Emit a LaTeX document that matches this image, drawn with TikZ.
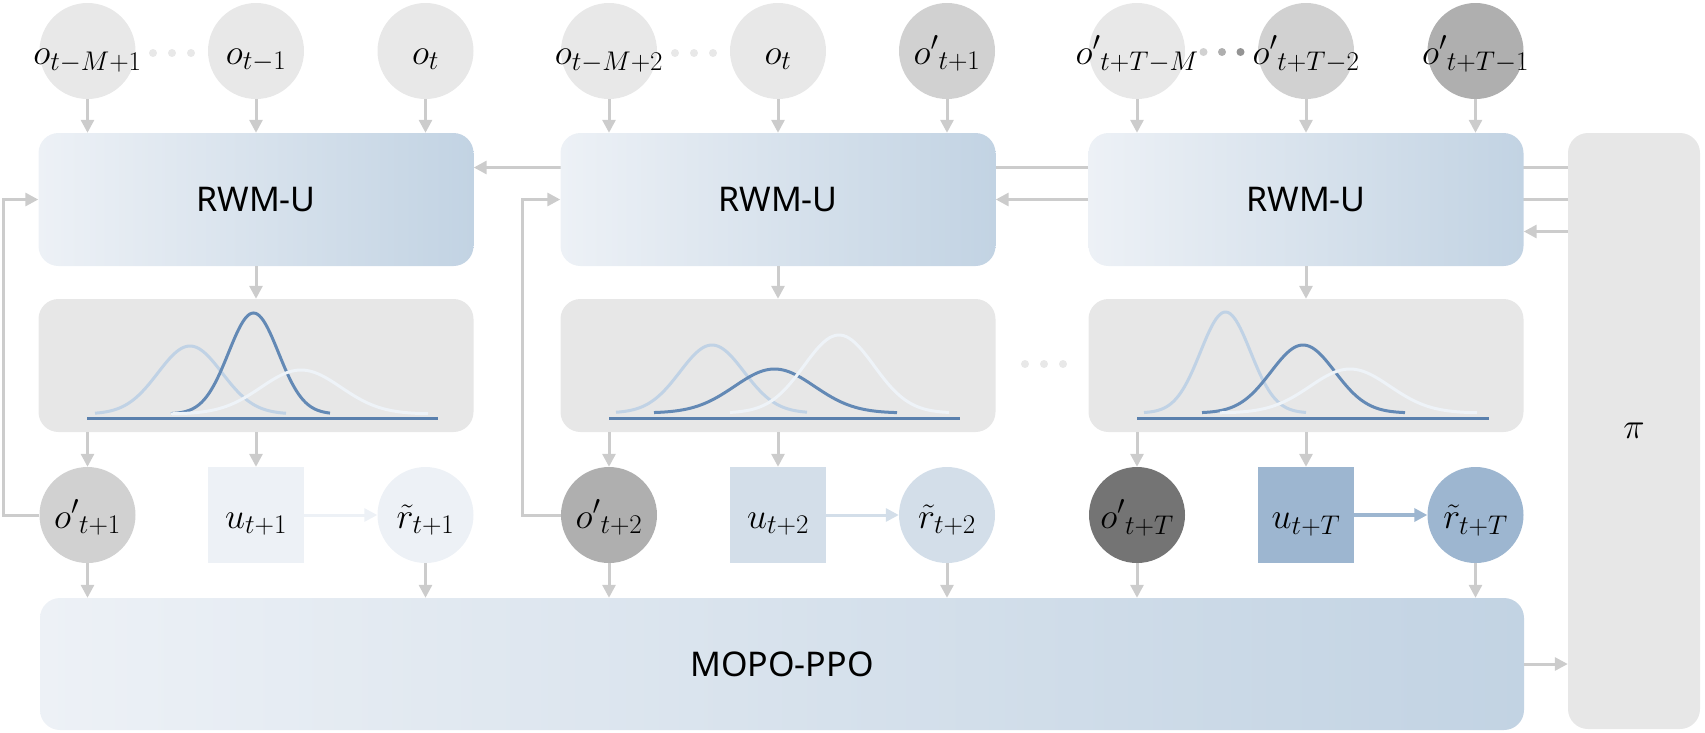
\RequirePackage{fix-cm}
\documentclass[tikz,border=0pt]{standalone}
\usepackage{amsmath}
\usepackage{fontspec}
\setsansfont{Noto Sans}
\usepackage{xcolor}
\usetikzlibrary{arrows.meta,backgrounds,calc}

\definecolor{arrowGray}{HTML}{CCCCCC}
\definecolor{obsLight}{HTML}{E8E8E8}
\definecolor{obsMid}{HTML}{D1D1D1}
\definecolor{obsDark}{HTML}{AFAFAF}
\definecolor{obsDeep}{HTML}{747474}
\definecolor{panelGray}{HTML}{E7E7E7}
\definecolor{blueLeft}{HTML}{EDF1F6}
\definecolor{blueRight}{HTML}{C2D3E3}
\definecolor{uncLow}{HTML}{EDF1F6}
\definecolor{uncMid}{HTML}{D3DEE9}
\definecolor{uncHigh}{HTML}{9DB6D0}
\definecolor{curveLight}{HTML}{C0D2E5}
\definecolor{curveDark}{HTML}{6389B5}
\definecolor{curvePale}{HTML}{EEF3F8}
\definecolor{axisBlue}{HTML}{5A80AD}

\DeclareMathSizes{36}{36}{27}{20}
\newcommand{\labelFont}{\fontsize{36}{40}\selectfont}
\newcommand{\boxFont}{\sffamily\fontsize{34}{40}\selectfont}
\newcommand{\obsLabel}[1]{\makebox[0pt]{$#1$}}

\begin{document}
\begin{tikzpicture}[x=1pt, y=-1pt, declare function={bell(\p,\m,\s)=exp(-0.5*((\p-\m)/\s)*((\p-\m)/\s));}]
% Define styles
\tikzstyle{obsNode}=[circle, minimum size=96pt, inner sep=0pt, text height=30pt, text depth=4pt, font=\labelFont]
\tikzstyle{uncBox}=[rectangle, minimum size=96pt, inner sep=0pt, text height=30pt, text depth=4pt, font=\labelFont]
\tikzstyle{rwmBox}=[rectangle, rounded corners=20pt, minimum width=435pt, minimum height=133pt, left color=blueLeft, right color=blueRight, font=\boxFont]
\tikzstyle{distBox}=[rectangle, rounded corners=20pt, minimum width=435pt, minimum height=133pt, fill=panelGray]
\tikzstyle{mopoBox}=[rectangle, rounded corners=20pt, minimum width=1484pt, minimum height=132pt, left color=blueLeft, right color=blueRight, font=\boxFont]
\tikzstyle{piBox}=[rectangle, rounded corners=20pt, minimum width=132pt, minimum height=596pt, fill=panelGray, font=\labelFont]
\tikzstyle{arrow}=[-{Triangle[width=13pt,length=13pt]}, line width=3pt, draw=arrowGray]
\tikzstyle{curve}=[line width=3pt]

\useasboundingbox (0,0) rectangle (1705,732);

% World model blocks
\node[rwmBox] (rwm1) at (256,199.5) {RWM-U};
\node[rwmBox] (rwm2) at (778,199.5) {RWM-U};
\node[rwmBox] (rwm3) at (1306,199.5) {RWM-U};

% Uncertainty panels
\node[distBox] (dist1) at (256,365.5) {};
\node[distBox] (dist2) at (778,365.5) {};
\node[distBox] (dist3) at (1306,365.5) {};

% Policy learner and policy
\node[mopoBox] (mopo) at (782,664) {MOPO-PPO};
\node[piBox] (policy) at (1634,431) {$\pi$};

% Input observations
\node[obsNode, fill=obsLight] (obs11) at (87.5,51) {\obsLabel{o_{t-M+1}}};
\node[obsNode, fill=obsLight] (obs12) at (256,51) {\obsLabel{o_{t-1}}};
\node[obsNode, fill=obsLight] (obs13) at (425.5,51) {\obsLabel{o_t}};
\node[obsNode, fill=obsLight] (obs21) at (609,51) {\obsLabel{o_{t-M+2}}};
\node[obsNode, fill=obsLight] (obs22) at (778,51) {\obsLabel{o_t}};
\node[obsNode, fill=obsMid] (obs23) at (947,51) {\obsLabel{{o'}_{t+1}}};
\node[obsNode, fill=obsLight] (obs31) at (1137,51) {\obsLabel{{o'}_{t+T-M}}};
\node[obsNode, fill=obsMid] (obs32) at (1306,51) {\obsLabel{{o'}_{t+T-2}}};
\node[obsNode, fill=obsDark] (obs33) at (1475.5,51) {\obsLabel{{o'}_{t+T-1}}};

% Dots
\fill[obsLight] (153,53) circle (4) (172,53) circle (4) (191,53) circle (4);
\fill[obsLight] (675,53) circle (4) (694,53) circle (4) (713,53) circle (4);
\fill[obsMid] (1203.5,52) circle (4);
\fill[obsDark] (1222,52) circle (4);
\fill[black!42] (1240.5,52) circle (4);
\fill[obsLight] (1025,364) circle (4) (1044,364) circle (4) (1063,364) circle (4);

% Predictions
\node[obsNode, fill=obsMid] (pred1) at (87.5,515) {\obsLabel{{o'}_{t+1}}};
\node[uncBox, fill=uncLow] (unc1) at (256,515) {\obsLabel{u_{t+1}}};
\node[obsNode, fill=uncLow] (rew1) at (425.5,515) {\obsLabel{\tilde{r}_{t+1}}};
\node[obsNode, fill=obsDark] (pred2) at (609,515) {\obsLabel{{o'}_{t+2}}};
\node[uncBox, fill=uncMid] (unc2) at (778,515) {\obsLabel{u_{t+2}}};
\node[obsNode, fill=uncMid] (rew2) at (947,515) {\obsLabel{\tilde{r}_{t+2}}};
\node[obsNode, fill=obsDeep] (pred3) at (1137,515) {\obsLabel{{o'}_{t+T}}};
\node[uncBox, fill=uncHigh] (unc3) at (1306,515) {\obsLabel{u_{t+T}}};
\node[obsNode, fill=uncHigh] (rew3) at (1475.5,515) {\obsLabel{\tilde{r}_{t+T}}};

% Ensemble distributions
\draw[curve, axisBlue] (87,418.5) -- (438,418.5);
\draw[curve, curveLight] plot[domain=95:286, samples=80, smooth] (\x, {414-68*bell(\x,190,32)});
\draw[curve, curveDark] plot[domain=171:330, samples=80, smooth] (\x, {414-101*bell(\x,253.5,25)});
\draw[curve, curvePale] plot[domain=171:428, samples=80, smooth] (\x, {414-44*bell(\x,301,40)});

\draw[curve, axisBlue] (609,418.5) -- (960,418.5);
\draw[curve, curveLight] plot[domain=616:807, samples=80, smooth] (\x, {413-68*bell(\x,712,32)});
\draw[curve, curveDark] plot[domain=654:897, samples=80, smooth] (\x, {413-44*bell(\x,774.5,40)});
\draw[curve, curvePale] plot[domain=730:949, samples=80, smooth] (\x, {413-78*bell(\x,839,35)});

\draw[curve, axisBlue] (1137,418.5) -- (1488.5,418.5);
\draw[curve, curveLight] plot[domain=1144:1306, samples=80, smooth] (\x, {413-101*bell(\x,1225.5,25)});
\draw[curve, curveDark] plot[domain=1202:1405, samples=80, smooth] (\x, {413-68*bell(\x,1303,32)});
\draw[curve, curvePale] plot[domain=1220:1477, samples=80, smooth] (\x, {413-44*bell(\x,1350,40)});

% Arrows into world models
\draw[arrow] (obs11) -- (obs11 |- rwm1.north);
\draw[arrow] (obs12) -- (obs12 |- rwm1.north);
\draw[arrow] (obs13) -- (obs13 |- rwm1.north);
\draw[arrow] (obs21) -- (obs21 |- rwm2.north);
\draw[arrow] (obs22) -- (obs22 |- rwm2.north);
\draw[arrow] (obs23) -- (obs23 |- rwm2.north);
\draw[arrow] (obs31) -- (obs31 |- rwm3.north);
\draw[arrow] (obs32) -- (obs32 |- rwm3.north);
\draw[arrow] (obs33) -- (obs33 |- rwm3.north);

\draw[arrow] (rwm1) -- (dist1);
\draw[arrow] (rwm2) -- (dist2);
\draw[arrow] (rwm3) -- (dist3);

\draw[arrow] (pred1 |- dist1.south) -- (pred1);
\draw[arrow] (dist1) -- (unc1);
\draw[arrow] (pred2 |- dist2.south) -- (pred2);
\draw[arrow] (dist2) -- (unc2);
\draw[arrow] (pred3 |- dist3.south) -- (pred3);
\draw[arrow] (dist3) -- (unc3);

\draw[arrow, draw=uncLow] (unc1) -- (rew1);
\draw[arrow, draw=uncMid] (unc2) -- (rew2);
\draw[arrow, draw=uncHigh, line width=4pt] (unc3) -- (rew3);

% Feedback of predicted observations
\draw[arrow] (pred1.west) -- ++(-36,0) |- (rwm1.west);
\draw[arrow] (pred2.west) -- ++(-38,0) |- (rwm2.west);

% Into MOPO-PPO
\draw[arrow] (pred1) -- (pred1 |- mopo.north);
\draw[arrow] (rew1) -- (rew1 |- mopo.north);
\draw[arrow] (pred2) -- (pred2 |- mopo.north);
\draw[arrow] (rew2) -- (rew2 |- mopo.north);
\draw[arrow] (pred3) -- (pred3 |- mopo.north);
\draw[arrow] (rew3) -- (rew3 |- mopo.north);
\draw[arrow] (mopo.east) -- (mopo.east -| policy.west);

% Policy actions back to world models
\coordinate (act1) at ($(rwm1.east)+(0,-32)$);
\coordinate (act2) at (rwm2.east);
\coordinate (act3) at ($(rwm3.east)+(0,32)$);
\begin{pgfonlayer}{background}
\draw[arrow] (policy.west |- act1) -- (act1);
\draw[arrow] (policy.west |- act2) -- (act2);
\draw[arrow] (policy.west |- act3) -- (act3);
\end{pgfonlayer}
\end{tikzpicture}
\end{document}
